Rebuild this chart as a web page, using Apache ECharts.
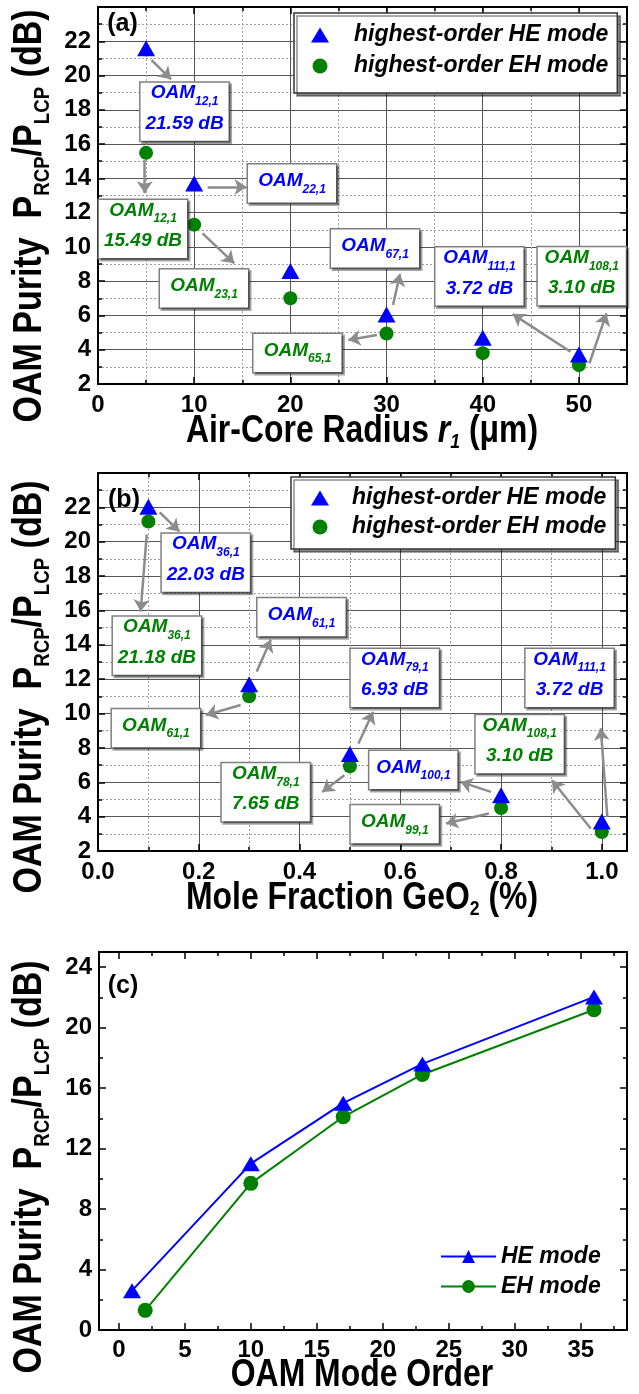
<!DOCTYPE html>
<html>
<head>
<meta charset="utf-8">
<script src="https://cdn.jsdelivr.net/npm/echarts@6.0.0/dist/echarts.min.js"></script>
<style>
html,body{margin:0;padding:0;background:#ffffff;}
#chart{width:639px;height:1394px;}
</style>
</head>
<body>
<div id="chart"></div>
<script>
// ---------------- data ----------------
// (a) purity vs air-core radius
const radiusA = [5, 10, 20, 30, 40, 50];
const heA = [21.59, 13.7, 8.6, 6.05, 4.7, 3.72];
const ehA = [15.49, 11.3, 7.0, 4.95, 3.8, 3.10];
// (b) purity vs GeO2 mole fraction
const geoB = [0.1, 0.3, 0.5, 0.8, 1.0];
const heB = [22.03, 11.7, 7.65, 5.25, 3.72];
const ehB = [21.18, 11.0, 6.93, 4.5, 3.10];
// (c) purity vs OAM mode order
const orderHE = [1, 10, 17, 23, 36];
const heC = [2.6, 11.0, 15.0, 17.6, 22.03];
const orderEH = [2, 10, 17, 23, 36];
const ehC = [1.3, 9.7, 14.1, 16.9, 21.18];

// tick labels
const xTicksA = [0, 10, 20, 30, 40, 50];
const yTicksAB = [2, 4, 6, 8, 10, 12, 14, 16, 18, 20, 22];
const xTicksB = [0, 0.2, 0.4, 0.6, 0.8, 1.0];
const xTicksC = [0, 5, 10, 15, 20, 25, 30, 35];
const xMinorC = [2.5, 7.5, 12.5, 17.5, 22.5, 27.5, 32.5, 37.5];
const yTicksC = [0, 4, 8, 12, 16, 20, 24];

// annotations: [x, y, subscript, value text, mode]
const annA = [
  [9.0, 17.89, '12,1', '21.59 dB', 'HE'],
  [20.17, 13.7, '22,1', '', 'HE'],
  [4.68, 11.04, '12,1', '15.49 dB', 'EH'],
  [11.02, 7.57, '23,1', '', 'EH'],
  [28.8, 9.9, '67,1', '', 'HE'],
  [20.74, 3.81, '65,1', '', 'EH'],
  [39.66, 8.28, '111,1', '3.72 dB', 'HE'],
  [50.3, 8.29, '108,1', '3.10 dB', 'EH']
];
// arrows: [x1, y1, x2, y2]
const arrowsA = [
  [5.57, 20.9, 7.6, 19.78],
  [11.4, 13.5, 15.44, 13.5],
  [4.86, 15.07, 4.86, 13.13],
  [10.87, 10.79, 14.17, 9.04],
  [30.67, 6.61, 31.4, 8.42],
  [29.0, 4.86, 26.03, 4.57],
  [49.13, 3.88, 43.11, 6.08],
  [51.1, 3.21, 52.86, 6.12]
];
const annB = [
  [0.214, 18.78, '36,1', '22.03 dB', 'HE'],
  [0.117, 13.95, '36,1', '21.18 dB', 'EH'],
  [0.404, 15.6, '61,1', '', 'HE'],
  [0.115, 9.15, '61,1', '', 'EH'],
  [0.589, 12.07, '79,1', '6.93 dB', 'HE'],
  [0.333, 5.42, '78,1', '7.65 dB', 'EH'],
  [0.626, 6.71, '100,1', '', 'HE'],
  [0.589, 3.55, '99,1', '', 'EH'],
  [0.936, 12.07, '111,1', '3.72 dB', 'HE'],
  [0.837, 8.22, '108,1', '3.10 dB', 'EH']
];
const arrowsB = [
  [0.1225, 21.71, 0.1614, 20.6],
  [0.0967, 20.41, 0.0846, 15.94],
  [0.315, 12.44, 0.343, 14.29],
  [0.283, 10.5, 0.214, 9.91],
  [0.517, 8.26, 0.546, 10.1],
  [0.489, 6.41, 0.445, 5.44],
  [0.78, 5.44, 0.7195, 6.02],
  [0.776, 4.18, 0.691, 3.6],
  [1.011, 3.98, 0.998, 9.14],
  [0.978, 3.31, 0.901, 6.12]
];

// ---------------- styling ----------------
const FONT = "'Liberation Sans', Arial, sans-serif";
const BLUE = '#0000ff';
const GREEN = '#008000';
const NAME_HE = 'highest-order HE mode';
const NAME_EH = 'highest-order EH mode';
const TITLE_SCALE = 0.84;

const LBL = {show: true, interval: 0, fontSize: 24, fontWeight: 'bold', fontFamily: FONT, color: '#000'};
const DOT = {show: true, lineStyle: {color: '#a0a0a0', width: 1, type: [2, 2]}};
const SOL = {show: true, lineStyle: {color: '#555555', width: 1, type: 'solid'}};

function ax(gi, pos, min, max, interval, len, extra) {
  const o = {
    gridIndex: gi, type: 'value', position: pos, min: min, max: max,
    axisLine: {show: true, onZero: false, lineStyle: {color: '#000', width: 2}},
    axisTick: {show: true, inside: true, length: len, lineStyle: {color: '#000', width: 1.5}},
    axisLabel: {show: false},
    splitLine: {show: false}
  };
  if (interval != null) o.interval = interval;
  return Object.assign(o, extra || {});
}

function zip(xs, ys) { return xs.map((x, i) => [x, ys[i]]); }

function richFor(color) {
  return {
    o: {fontSize: 19, fontWeight: 'bold', fontStyle: 'italic', fontFamily: FONT, color: color, lineHeight: 24, verticalAlign: 'top', align: 'center'},
    s: {fontSize: 12, fontWeight: 'bold', fontStyle: 'italic', fontFamily: FONT, color: color, lineHeight: 6, verticalAlign: 'bottom', align: 'center'},
    v: {fontSize: 19, fontWeight: 'bold', fontStyle: 'italic', fontFamily: FONT, color: color, lineHeight: 32, align: 'center'}
  };
}

function boxSeries(gi, anns) {
  return {
    type: 'scatter', name: 'boxes' + gi, xAxisIndex: gi * 4 + 1, yAxisIndex: gi * 4 + 1,
    data: [], silent: true, z: 1,
    markPoint: {
      silent: true, animation: false,
      data: anns.map(a => {
        const col = a[4] === 'HE' ? BLUE : GREEN;
        const txt = '{o|OAM}{s|' + a[2] + '}' + (a[3] ? '\n{v|' + a[3] + '}' : '');
        return {
          coord: [a[0], a[1]], symbol: 'rect', symbolSize: 1,
          itemStyle: {color: 'rgba(0,0,0,0)'},
          label: {
            show: true, position: 'inside', formatter: txt, width: 72, align: 'center',
            padding: a[3] ? [1, 8, 1, 8] : [7, 8, 7, 8],
            backgroundColor: '#fff', borderColor: '#7f7f7f', borderWidth: 1.5,
            shadowColor: 'rgba(0,0,0,0.35)', shadowOffsetX: 2, shadowOffsetY: 2, shadowBlur: 0,
            rich: richFor(col)
          }
        };
      })
    }
  };
}

function arrowSeries(gi, arrows) {
  return {
    type: 'scatter', name: 'arrows' + gi, xAxisIndex: gi * 4 + 1, yAxisIndex: gi * 4 + 1,
    data: [], silent: true, z: 3,
    markLine: {
      silent: true, animation: false, symbol: ['none', 'arrow'], symbolSize: 12,
      label: {show: false}, emphasis: {disabled: true},
      lineStyle: {color: '#8c8c8c', width: 2.5, type: 'solid'},
      data: arrows.map(a => [{coord: [a[0], a[1]]}, {coord: [a[2], a[3]]}])
    }
  };
}

const legendText = {fontSize: 23, fontWeight: 'bold', fontStyle: 'italic', fontFamily: FONT, color: '#000'};

const yTitleRich = {
  m: {fontSize: 40, fontWeight: 'bold', fontFamily: FONT, lineHeight: 44, verticalAlign: 'top'},
  s: {fontSize: 22, fontWeight: 'bold', fontFamily: FONT, lineHeight: 10, verticalAlign: 'bottom'}
};
const xTitleRich = {
  m: {fontSize: 38, fontWeight: 'bold', fontFamily: FONT, lineHeight: 40, verticalAlign: 'top'},
  i: {fontSize: 38, fontWeight: 'bold', fontStyle: 'italic', fontFamily: FONT, lineHeight: 40, verticalAlign: 'top'},
  s: {fontSize: 21, fontWeight: 'bold', fontFamily: FONT, lineHeight: 8, verticalAlign: 'bottom'},
  si: {fontSize: 21, fontWeight: 'bold', fontStyle: 'italic', fontFamily: FONT, lineHeight: 8, verticalAlign: 'bottom'}
};
const Y_TITLE = '{m|OAM Purity  P}{s|RCP}{m|/P}{s|LCP}{m| (dB)}';

function yTitle(x, y) {
  return {type: 'text', x: x, y: y, rotation: Math.PI / 2, scaleX: 0.85, scaleY: 1, z: 10,
    style: {text: Y_TITLE, rich: yTitleRich, align: 'center', verticalAlign: 'middle', fill: '#000'}};
}
function xTitle(x, y, text) {
  return {type: 'text', x: x, y: y, scaleX: TITLE_SCALE, scaleY: 1, z: 10,
    style: {text: text, rich: xTitleRich, align: 'center', verticalAlign: 'middle', fill: '#000'}};
}
function panelLabel(x, y, t) {
  return {type: 'text', x: x, y: y, z: 10,
    style: {text: t, fontSize: 25, fontWeight: 'bold', fontFamily: FONT, align: 'center', verticalAlign: 'middle', fill: '#000'}};
}

const option = {
  animation: false,
  backgroundColor: '#ffffff',
  grid: [
    {left: 98, top: 7, width: 529, height: 377},
    {left: 98, top: 473, width: 529, height: 378},
    {left: 99, top: 952, width: 528, height: 378}
  ],
  xAxis: [
    ax(0, 'bottom', 0, 55, 5, 4, {splitLine: DOT}),
    ax(0, 'bottom', 0, 55, 10, 7, {splitLine: SOL, axisLabel: Object.assign({}, LBL, {margin: 9, customValues: xTicksA})}),
    ax(0, 'top', 0, 55, 5, 4),
    ax(0, 'top', 0, 55, 10, 7),

    ax(1, 'bottom', 0, 1.05, 0.1, 4, {splitLine: DOT}),
    ax(1, 'bottom', 0, 1.05, 0.2, 7, {splitLine: SOL, axisLabel: Object.assign({}, LBL, {margin: 9, customValues: xTicksB, formatter: v => Number(v).toFixed(1)})}),
    ax(1, 'top', 0, 1.05, 0.1, 4),
    ax(1, 'top', 0, 1.05, 0.2, 7),

    ax(2, 'bottom', -1.5, 38.5, null, 4, {axisTick: {show: true, inside: true, length: 4, customValues: xMinorC, lineStyle: {color: '#000', width: 1.5}}}),
    ax(2, 'bottom', -1.5, 38.5, null, 7, {axisTick: {show: true, inside: true, length: 7, customValues: xTicksC, lineStyle: {color: '#000', width: 1.5}},
      axisLabel: Object.assign({}, LBL, {margin: 8, customValues: xTicksC})}),
    ax(2, 'top', -1.5, 38.5, null, 4, {axisTick: {show: true, inside: true, length: 4, customValues: xMinorC, lineStyle: {color: '#000', width: 1.5}}}),
    ax(2, 'top', -1.5, 38.5, null, 7, {axisTick: {show: true, inside: true, length: 7, customValues: xTicksC, lineStyle: {color: '#000', width: 1.5}}})
  ],
  yAxis: [
    ax(0, 'left', 2, 24, 1, 4, {splitLine: DOT}),
    ax(0, 'left', 2, 24, 2, 7, {splitLine: SOL, axisLabel: Object.assign({}, LBL, {margin: 7, customValues: yTicksAB})}),
    ax(0, 'right', 2, 24, 1, 4),
    ax(0, 'right', 2, 24, 2, 7),

    ax(1, 'left', 2, 24, 1, 4, {splitLine: DOT}),
    ax(1, 'left', 2, 24, 2, 7, {splitLine: SOL, axisLabel: Object.assign({}, LBL, {margin: 7, customValues: yTicksAB})}),
    ax(1, 'right', 2, 24, 1, 4),
    ax(1, 'right', 2, 24, 2, 7),

    ax(2, 'left', 0, 25, 2, 4),
    ax(2, 'left', 0, 25, 4, 7, {axisLabel: Object.assign({}, LBL, {margin: 7, customValues: yTicksC})}),
    ax(2, 'right', 0, 25, 2, 4),
    ax(2, 'right', 0, 25, 4, 7)
  ],
  legend: [
    {
      data: [NAME_HE, NAME_EH], orient: 'vertical', left: 294, top: 13,
      itemWidth: 18, itemHeight: 15, itemGap: 5, padding: [9, 9, 14, 17],
      backgroundColor: '#fff', borderColor: '#333', borderWidth: 1.5,
      shadowColor: 'rgba(0,0,0,0.45)', shadowOffsetX: 3, shadowOffsetY: 3, shadowBlur: 0,
      selectedMode: false, textStyle: Object.assign({}, legendText, {lineHeight: 26, padding: [0, 0, 0, 20]})
    },
    {
      data: [NAME_HE, NAME_EH], orient: 'vertical', left: 291, top: 477,
      itemWidth: 18, itemHeight: 15, itemGap: 5, padding: [9, 9, 10, 20],
      backgroundColor: '#fff', borderColor: '#333', borderWidth: 1.5,
      shadowColor: 'rgba(0,0,0,0.45)', shadowOffsetX: 3, shadowOffsetY: 3, shadowBlur: 0,
      selectedMode: false, textStyle: Object.assign({}, legendText, {lineHeight: 24, padding: [0, 0, 0, 18]})
    },
    {
      data: ['HE mode', 'EH mode'], orient: 'vertical', left: 440, top: 1244,
      itemWidth: 55, itemHeight: 16, itemGap: 5, padding: 0,
      selectedMode: false, textStyle: Object.assign({}, legendText, {lineHeight: 25})
    }
  ],
  graphic: [
    yTitle(32, 216),
    yTitle(32, 687),
    yTitle(32, 1167),
    xTitle(362, 433, '{m|Air-Core Radius }{i|r}{si|1}{m| (\u03bcm)}'),
    xTitle(362, 900, '{m|Mole Fraction GeO}{s|2}{m| (%)}'),
    xTitle(362, 1377, '{m|OAM Mode Order}'),
    panelLabel(122.5, 24, '(a)'),
    panelLabel(124, 500, '(b)'),
    panelLabel(123, 986, '(c)')
  ],
  series: [
    boxSeries(0, annA),
    boxSeries(1, annB),
    arrowSeries(0, arrowsA),
    arrowSeries(1, arrowsB),
    {name: NAME_HE, type: 'scatter', xAxisIndex: 1, yAxisIndex: 1, symbol: 'triangle', symbolSize: [18, 16],
      itemStyle: {color: BLUE, opacity: 1}, data: zip(radiusA, heA), z: 5},
    {name: NAME_EH, type: 'scatter', xAxisIndex: 1, yAxisIndex: 1, symbol: 'circle', symbolSize: 14,
      itemStyle: {color: GREEN, opacity: 1}, data: zip(radiusA, ehA), z: 4},
    {name: NAME_HE, type: 'scatter', xAxisIndex: 5, yAxisIndex: 5, symbol: 'triangle', symbolSize: [18, 16],
      itemStyle: {color: BLUE, opacity: 1}, data: zip(geoB, heB), z: 5},
    {name: NAME_EH, type: 'scatter', xAxisIndex: 5, yAxisIndex: 5, symbol: 'circle', symbolSize: 14,
      itemStyle: {color: GREEN, opacity: 1}, data: zip(geoB, ehB), z: 4},
    {name: 'HE mode', type: 'line', xAxisIndex: 9, yAxisIndex: 9, symbol: 'triangle', symbolSize: [18, 15],
      showAllSymbol: true, lineStyle: {color: BLUE, width: 2}, itemStyle: {color: BLUE, opacity: 1}, data: zip(orderHE, heC), z: 5},
    {name: 'EH mode', type: 'line', xAxisIndex: 9, yAxisIndex: 9, symbol: 'circle', symbolSize: 15,
      showAllSymbol: true, lineStyle: {color: GREEN, width: 2}, itemStyle: {color: GREEN, opacity: 1}, data: zip(orderEH, ehC), z: 4}
  ]
};

const chart = echarts.init(document.getElementById('chart'), null, {renderer: 'canvas'});
chart.setOption(option);
</script>
</body>
</html>
